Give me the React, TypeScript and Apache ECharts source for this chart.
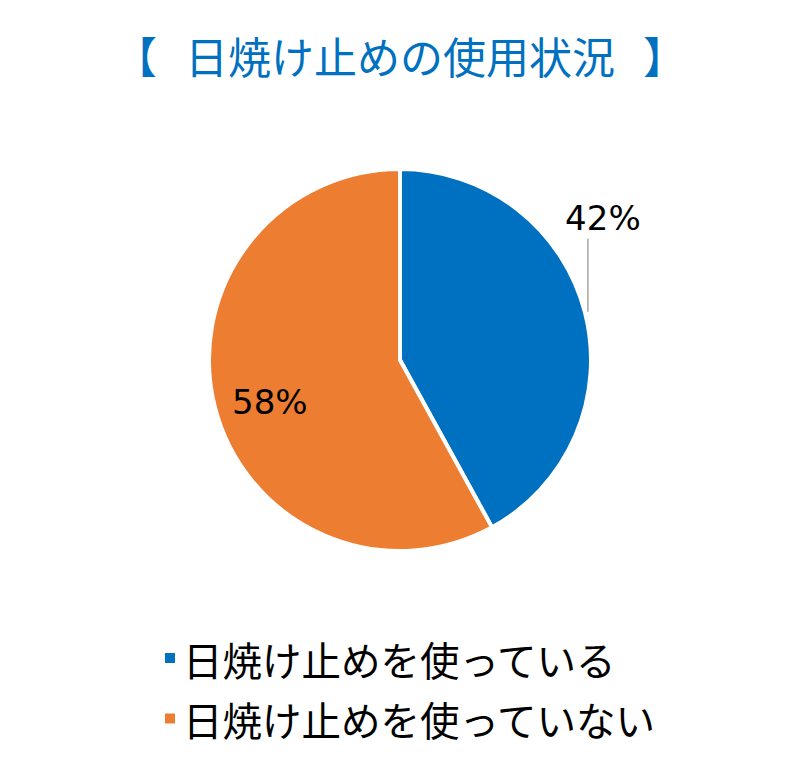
import React, { useEffect, useRef } from 'react';
import * as echarts from 'echarts';

const titleText = '【{s|　}日焼け止めの使用状況{s|　}】';
const categories = ['日焼け止めを使っている', '日焼け止めを使っていない'];
const values = [42, 58];
const colors = ['#0070C0', '#ED7D31'];

export default function App() {
  const ref = useRef<HTMLDivElement>(null);
  useEffect(() => {
    document.body.style.margin = '0';
    const chart = echarts.init(ref.current as HTMLDivElement, null, { renderer: 'svg' });
    const cx = 400;
    const cy = 360;
    const R = 191;
    const total = values.reduce((a, b) => a + b, 0);
    const midAngle = (i: number) => {
      let s = 0;
      for (let k = 0; k < i; k++) s += values[k];
      return ((s + values[i] / 2) / total) * 2 * Math.PI;
    };
    const unit = (a: number) => [Math.sin(a), -Math.cos(a)];

    chart.setOption({
      animation: false,
      title: {
        text: titleText,
        left: 'center',
        top: 28,
        textStyle: {
          fontSize: 43,
          fontWeight: 'normal',
          color: '#0070C0',
          fontFamily: 'Noto Sans CJK JP',
          rich: {
            s: { fontSize: 28, fontFamily: 'Noto Sans CJK JP', color: '#0070C0' },
          },
        },
      },
      legend: {
        orient: 'vertical',
        left: 163,
        top: 638,
        padding: 0,
        itemGap: 20.5,
        itemWidth: 12,
        itemHeight: 12,
        icon: 'rect',
        selectedMode: false,
        data: categories,
        textStyle: {
          fontSize: 39.5,
          lineHeight: 40,
          color: '#000',
          fontFamily: 'Noto Sans CJK JP',
          padding: [0, 0, 0, 2],
        },
      },
      series: [
        {
          type: 'pie',
          center: [cx, cy],
          radius: R,
          startAngle: 90,
          clockwise: true,
          avoidLabelOverlap: false,
          silent: true,
          percentPrecision: 0,
          data: categories.map((name, i) => ({
            name,
            value: values[i],
            itemStyle: { color: colors[i] },
            label: { position: i === 0 ? 'outside' : 'inside' },
            labelLine: { show: i === 0 },
          })),
          label: {
            formatter: '{d}%',
            fontSize: 34,
            fontFamily: 'DejaVu Sans',
            color: '#000',
          },
          labelLine: {
            lineStyle: { color: '#A6A6A6', width: 1.5 },
          },
          itemStyle: { borderColor: '#fff', borderWidth: 4 },
          labelLayout: (params: any) => {
            const i = params.dataIndex;
            const u = unit(midAngle(i));
            if (i === 0) {
              const px = cx + (R + 3) * u[0];
              const py = cy + (R + 3) * u[1];
              return {
                x: px + 15,
                y: py - 94,
                align: 'center',
                verticalAlign: 'middle',
                labelLinePoints: [
                  [px, py],
                  [px, py - 36],
                  [px, py - 73],
                ],
              };
            }
            return {
              x: cx + 0.72 * R * u[0] + 3,
              y: cy + 0.72 * R * u[1] + 8,
              align: 'center',
              verticalAlign: 'middle',
            };
          },
        },
      ],
    });
    return () => chart.dispose();
  }, []);
  return <div ref={ref} style={{ width: 800, height: 772 }} />;
}
